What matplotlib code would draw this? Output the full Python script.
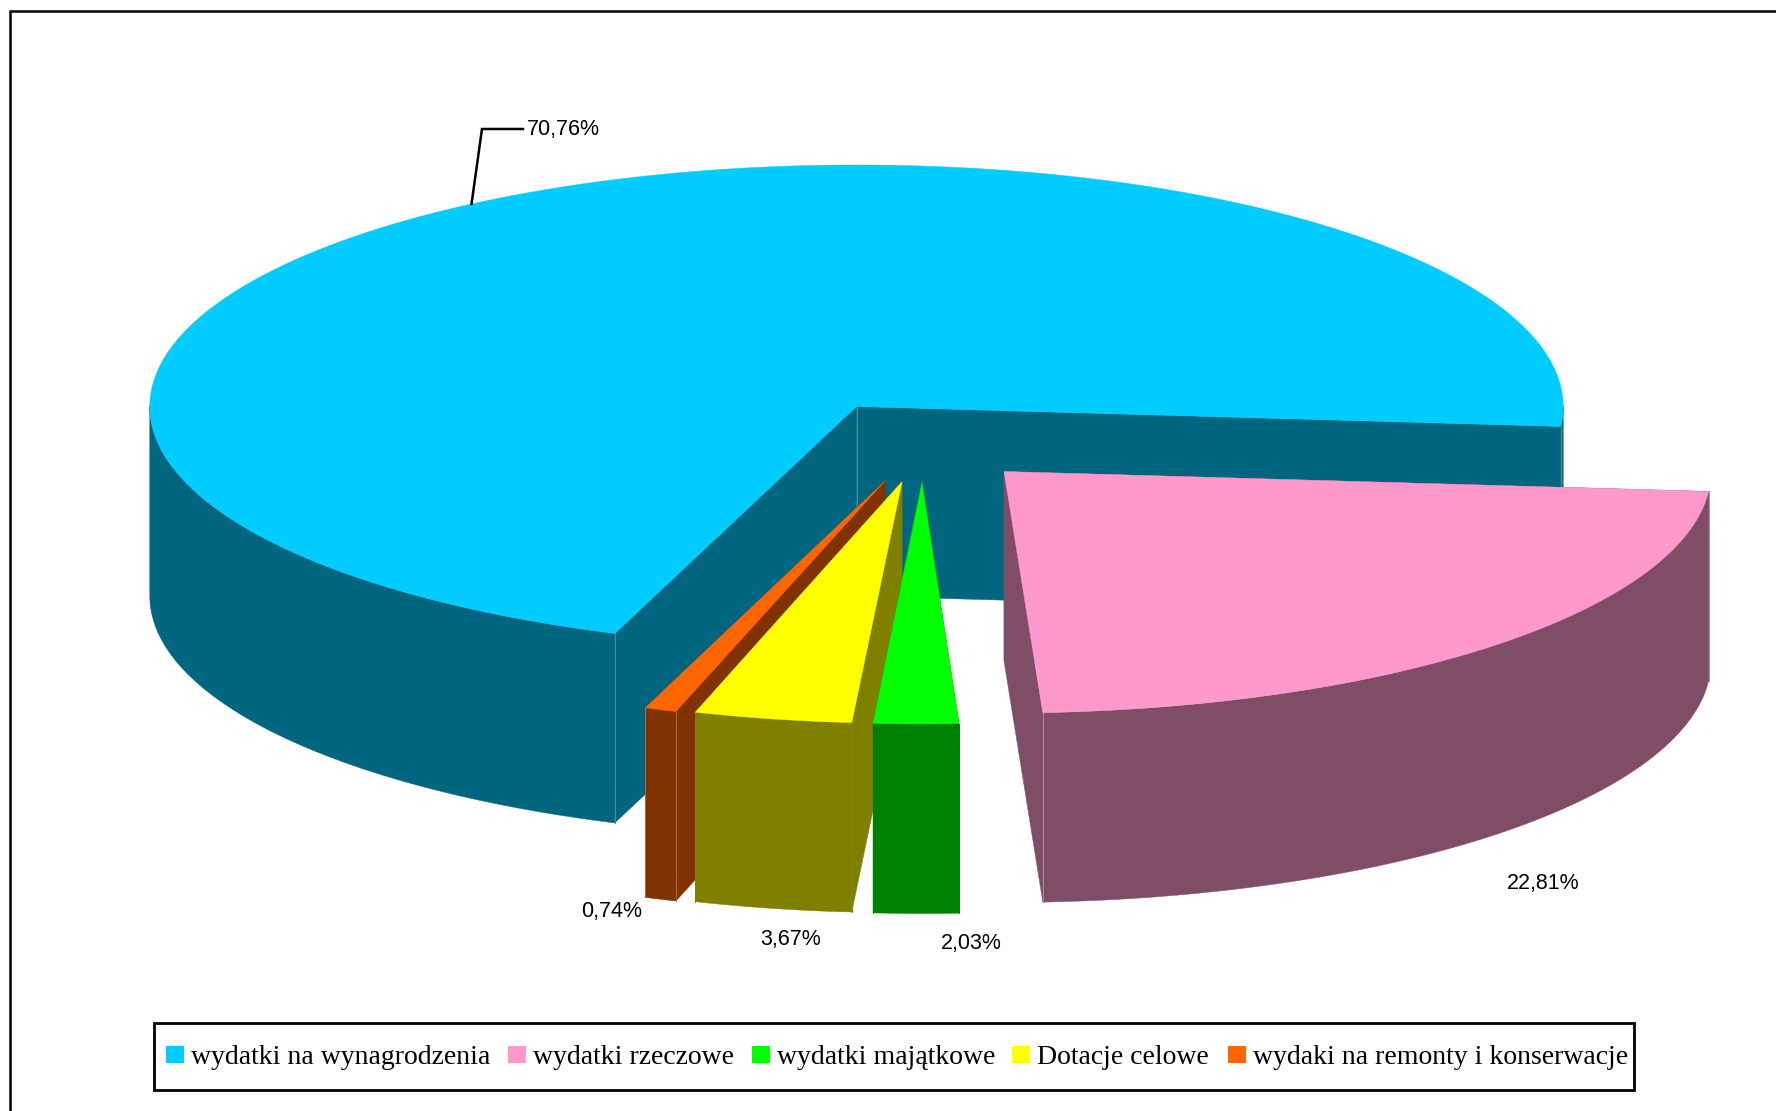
import numpy as np
import matplotlib
matplotlib.use('Agg')
import matplotlib.pyplot as plt
from matplotlib.patches import Rectangle

# dane
categories = ['wydatki na wynagrodzenia', 'wydatki rzeczowe', 'wydatki majątkowe',
              'Dotacje celowe', 'wydaki na remonty i konserwacje']
values = [70.76, 22.81, 2.03, 3.67, 0.74]
value_labels = ['70,76%', '22,81%', '2,03%', '3,67%', '0,74%']
top_colors = ['#00CCFF', '#FF99CC', '#00FF00', '#FFFF00', '#FF6600']
side_colors = ['#006680', '#804D66', '#008000', '#808000', '#803300']
seam_colors = ['#4F8C9E', '#A98A9A', '#008000', '#808000', '#A07050']

# srodek kazdego wycinka w pikselach (wysuniecie) i jego promien poziomy
centers = [(856.5, 406.5), (1004, 471.5), (922, 482.5), (902, 481.7), (885, 481)]
radii_x = [706.7, 707, 674, 692, 700]
label_pos = [(527, 130), (1507, 883), (941, 943), (760, 940), (581, 912)]
legend_swatch_x = [166, 508, 752, 1012, 1228]

RY = 241.5
DEPTH = 189.5
START = 110.0

fig = plt.figure(figsize=(17.76, 11.11), dpi=100)
ax = fig.add_axes([0, 0, 1, 1])
ax.set_xlim(0, 1776)
ax.set_ylim(1111, 0)
ax.axis('off')


def pt(c, rx, t):
    t = np.radians(t)
    return c[0] + rx * np.cos(t), c[1] + RY * np.sin(t)


def radial_wall(c, rx, t, color, z):
    x, y = pt(c, rx, t)
    ax.fill([c[0], x, x, c[0]], [c[1], y, y + DEPTH, c[1] + DEPTH],
            color=color, lw=0.3, zorder=z)


def outer_wall(c, rx, t0, t1, color, z):
    # tylko przod (0-180 stopni)
    for k in (0, 360):
        a, b = max(t0, k), min(t1, k + 180)
        if a >= b:
            continue
        x, y = pt(c, rx, np.linspace(a, b, 200))
        ax.fill(np.r_[x, x[::-1]], np.r_[y, y[::-1] + DEPTH], color=color, lw=0.3, zorder=z)


def top_face(c, rx, t0, t1, color, z):
    x, y = pt(c, rx, np.linspace(t0, t1, 400))
    ax.fill(np.r_[c[0], x], np.r_[c[1], y], color=color, lw=0.3, zorder=z)


# katy wycinkow - zgodnie z ruchem wskazowek na ekranie
angles = [START]
for v in values:
    angles.append(angles[-1] + v * 3.6)

# kolejnosc rysowania: od tylu do przodu
for n, i in enumerate([0, 1, 4, 3, 2]):
    t0, t1 = angles[i], angles[i + 1]
    c = centers[i]
    rx = radii_x[i]
    z = 2 + n
    radial_wall(c, rx, t1, side_colors[i], z)
    radial_wall(c, rx, t0, side_colors[i], z)
    outer_wall(c, rx, t0, t1, side_colors[i], z)
    for t in (t0, t1):
        x, y = pt(c, rx, t)
        ax.plot([x, x], [y, y + DEPTH], color=seam_colors[i], lw=0.7, zorder=z)
    if i == 0:
        ax.plot([c[0], c[0]], [c[1], c[1] + DEPTH], color=seam_colors[i], lw=0.7, zorder=z)
    top_face(c, rx, t0, t1, top_colors[i], z)

# ramka wykresu
ax.plot([9.5, 9.5, 1776], [1111, 11, 11], color='black', lw=1.8, zorder=10,
        solid_joinstyle='miter')

# etykiety
for (x, y), s in zip(label_pos, value_labels):
    ax.text(x, y, s, family='Liberation Sans', fontsize=15.5, ha='left', va='center', zorder=11)
ax.plot([523, 482, 471.5], [129, 129, 204], color='black', lw=1.8, zorder=11,
        solid_joinstyle='miter')

# legenda
ax.add_patch(Rectangle((154, 1023), 1480, 66.5, fc='white', ec='black', lw=2, zorder=10))
for x, col, name in zip(legend_swatch_x, top_colors, categories):
    ax.add_patch(Rectangle((x, 1046), 18, 17, fc=col, ec='none', zorder=11))
    ax.text(x + 25, 1057, name, family='Liberation Serif', fontsize=20,
            ha='left', va='center', zorder=11)

fig.savefig('out.png', dpi=100)
